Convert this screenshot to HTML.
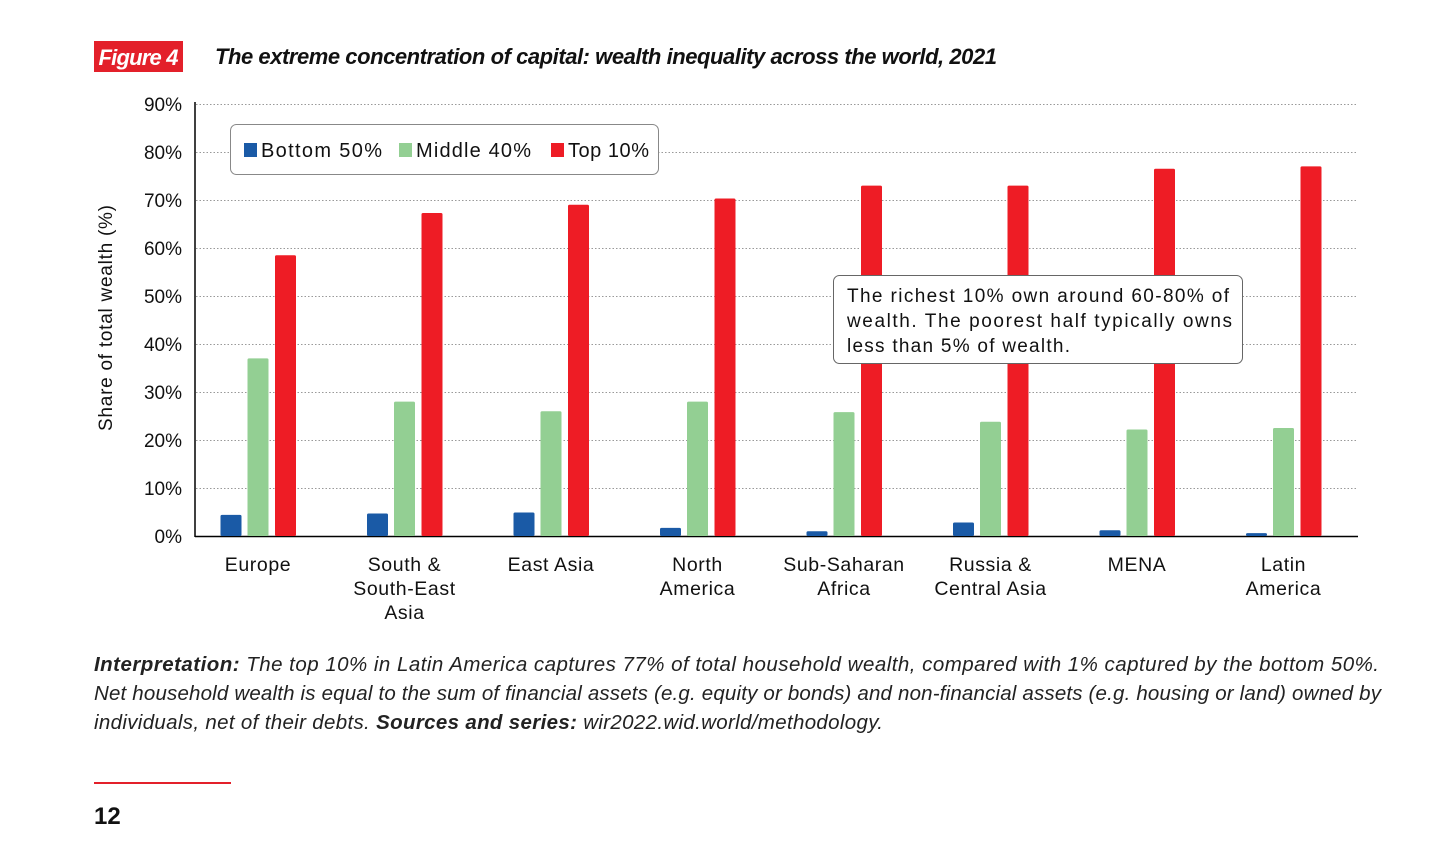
<!DOCTYPE html>
<html><head><meta charset="utf-8"><style>
body{margin:0;background:#fff;width:1456px;height:844px;overflow:hidden;font-family:"Liberation Sans",sans-serif;}
svg text{font-family:"Liberation Sans",sans-serif;}
</style></head><body>
<svg id="c" width="1456" height="844">
<rect x="94" y="41" width="89" height="31" fill="#e3202a"/>
<text x="138.5" y="65" fill="#fff" font-size="22" font-style="italic" font-weight="bold" text-anchor="middle" textLength="80">Figure 4</text>
<text x="215" y="64" fill="#111" font-size="22" font-style="italic" font-weight="bold" textLength="782">The extreme concentration of capital: wealth inequality across the world, 2021</text>
<g id="grid"></g>
<line x1="195" y1="102" x2="195" y2="537" stroke="#000" stroke-width="1.5"/>
<line x1="195" y1="536.5" x2="1358" y2="536.5" stroke="#000" stroke-width="1.5"/>
<g id="bars"></g>
<text transform="translate(112,318) rotate(-90)" font-size="19" text-anchor="middle" fill="#111" textLength="226">Share of total wealth (%)</text>
<g>
<rect x="230.5" y="124.5" width="428" height="50" rx="6" fill="#fff" stroke="#888"/>
<rect x="244" y="143" width="13" height="14" fill="#1a5aa6"/><text x="261" y="157" font-size="20" fill="#111" textLength="121">Bottom 50%</text>
<rect x="399" y="143" width="13" height="14" fill="#93cf93"/><text x="416" y="157" font-size="20" fill="#111" textLength="115">Middle 40%</text>
<rect x="551" y="143" width="13" height="14" fill="#ee1c25"/><text x="568" y="157" font-size="20" fill="#111" textLength="81">Top 10%</text>
</g>
<g>
<rect x="833.5" y="275.5" width="409" height="88" rx="6" fill="#fff" stroke="#666"/>
<text font-size="19" fill="#111"><tspan x="847" y="302" textLength="382">The richest 10% own around 60-80% of</tspan><tspan x="847" y="327" textLength="385">wealth. The poorest half typically owns</tspan><tspan x="847" y="352" textLength="223">less than 5% of wealth.</tspan></text>
</g>
<text font-size="20.5" font-style="italic" fill="#222">
<tspan x="94" y="671" textLength="1285"><tspan font-weight="bold">Interpretation:</tspan> The top 10% in Latin America captures 77% of total household wealth, compared with 1% captured by the bottom 50%.</tspan>
<tspan x="94" y="700" textLength="1287">Net household wealth is equal to the sum of financial assets (e.g. equity or bonds) and non-financial assets (e.g. housing or land) owned by</tspan>
<tspan x="94" y="729" textLength="789">individuals, net of their debts. <tspan font-weight="bold">Sources and series:</tspan> wir2022.wid.world/methodology.</tspan>
</text>
<line x1="94" y1="783" x2="231" y2="783" stroke="#e3202a" stroke-width="2"/>
<text x="94" y="824" font-size="24" font-weight="bold" fill="#111">12</text>
</svg>
<script>
const categories=[["Europe"],["South &","South-East","Asia"],["East Asia"],["North","America"],["Sub-Saharan","Africa"],["Russia &","Central Asia"],["MENA"],["Latin","America"]];
const bottom50=[4.4,4.7,4.9,1.7,1.0,2.8,1.2,0.6];
const middle40=[37,28,26,28,25.8,23.8,22.2,22.5];
const top10=[58.5,67.3,69,70.3,73,73,76.5,77];
const yTicks=[0,10,20,30,40,50,60,70,80,90];
const NS="http://www.w3.org/2000/svg";
const y=v=>536-v*4.8;
const cx=i=>258+i*146.5;
const grid=document.getElementById('grid'),bars=document.getElementById('bars');
function mk(tag,attrs,parent){const e=document.createElementNS(NS,tag);for(const k in attrs)e.setAttribute(k,attrs[k]);parent.appendChild(e);return e;}
yTicks.forEach(t=>{
  if(t>0){const l=mk('line',{x1:196,x2:1358,y1:y(t)+0.5,y2:y(t)+0.5,stroke:'#999','stroke-dasharray':'1.5 2'},grid);
  
  }
  const tx=mk('text',{x:182,y:y(t)+7,'font-size':19,'text-anchor':'end',fill:'#111'},grid);
  tx.textContent=t+'%';
  
  
});
const series=[[bottom50,'#1a5aa6',-27,'bar-bottom-50'],[middle40,'#93cf93',0,'bar-middle-40'],[top10,'#ee1c25',27.5,'bar-top-10']];
categories.forEach((c,i)=>{
  series.forEach(([arr,col,off,name])=>{
    const v=arr[i];
    const r=mk('rect',{x:cx(i)+off-10.5,y:y(v),width:21,height:536-y(v),fill:col,rx:1.5},bars);
    
    
  });
  const t=mk('text',{'font-size':19.5,'text-anchor':'middle',fill:'#111','letter-spacing':'0.6'},bars);
  
  
  c.forEach((line,k)=>{const s=mk('tspan',{x:cx(i),y:571+k*24},t);s.textContent=line;});
});
</script>
</body></html>
